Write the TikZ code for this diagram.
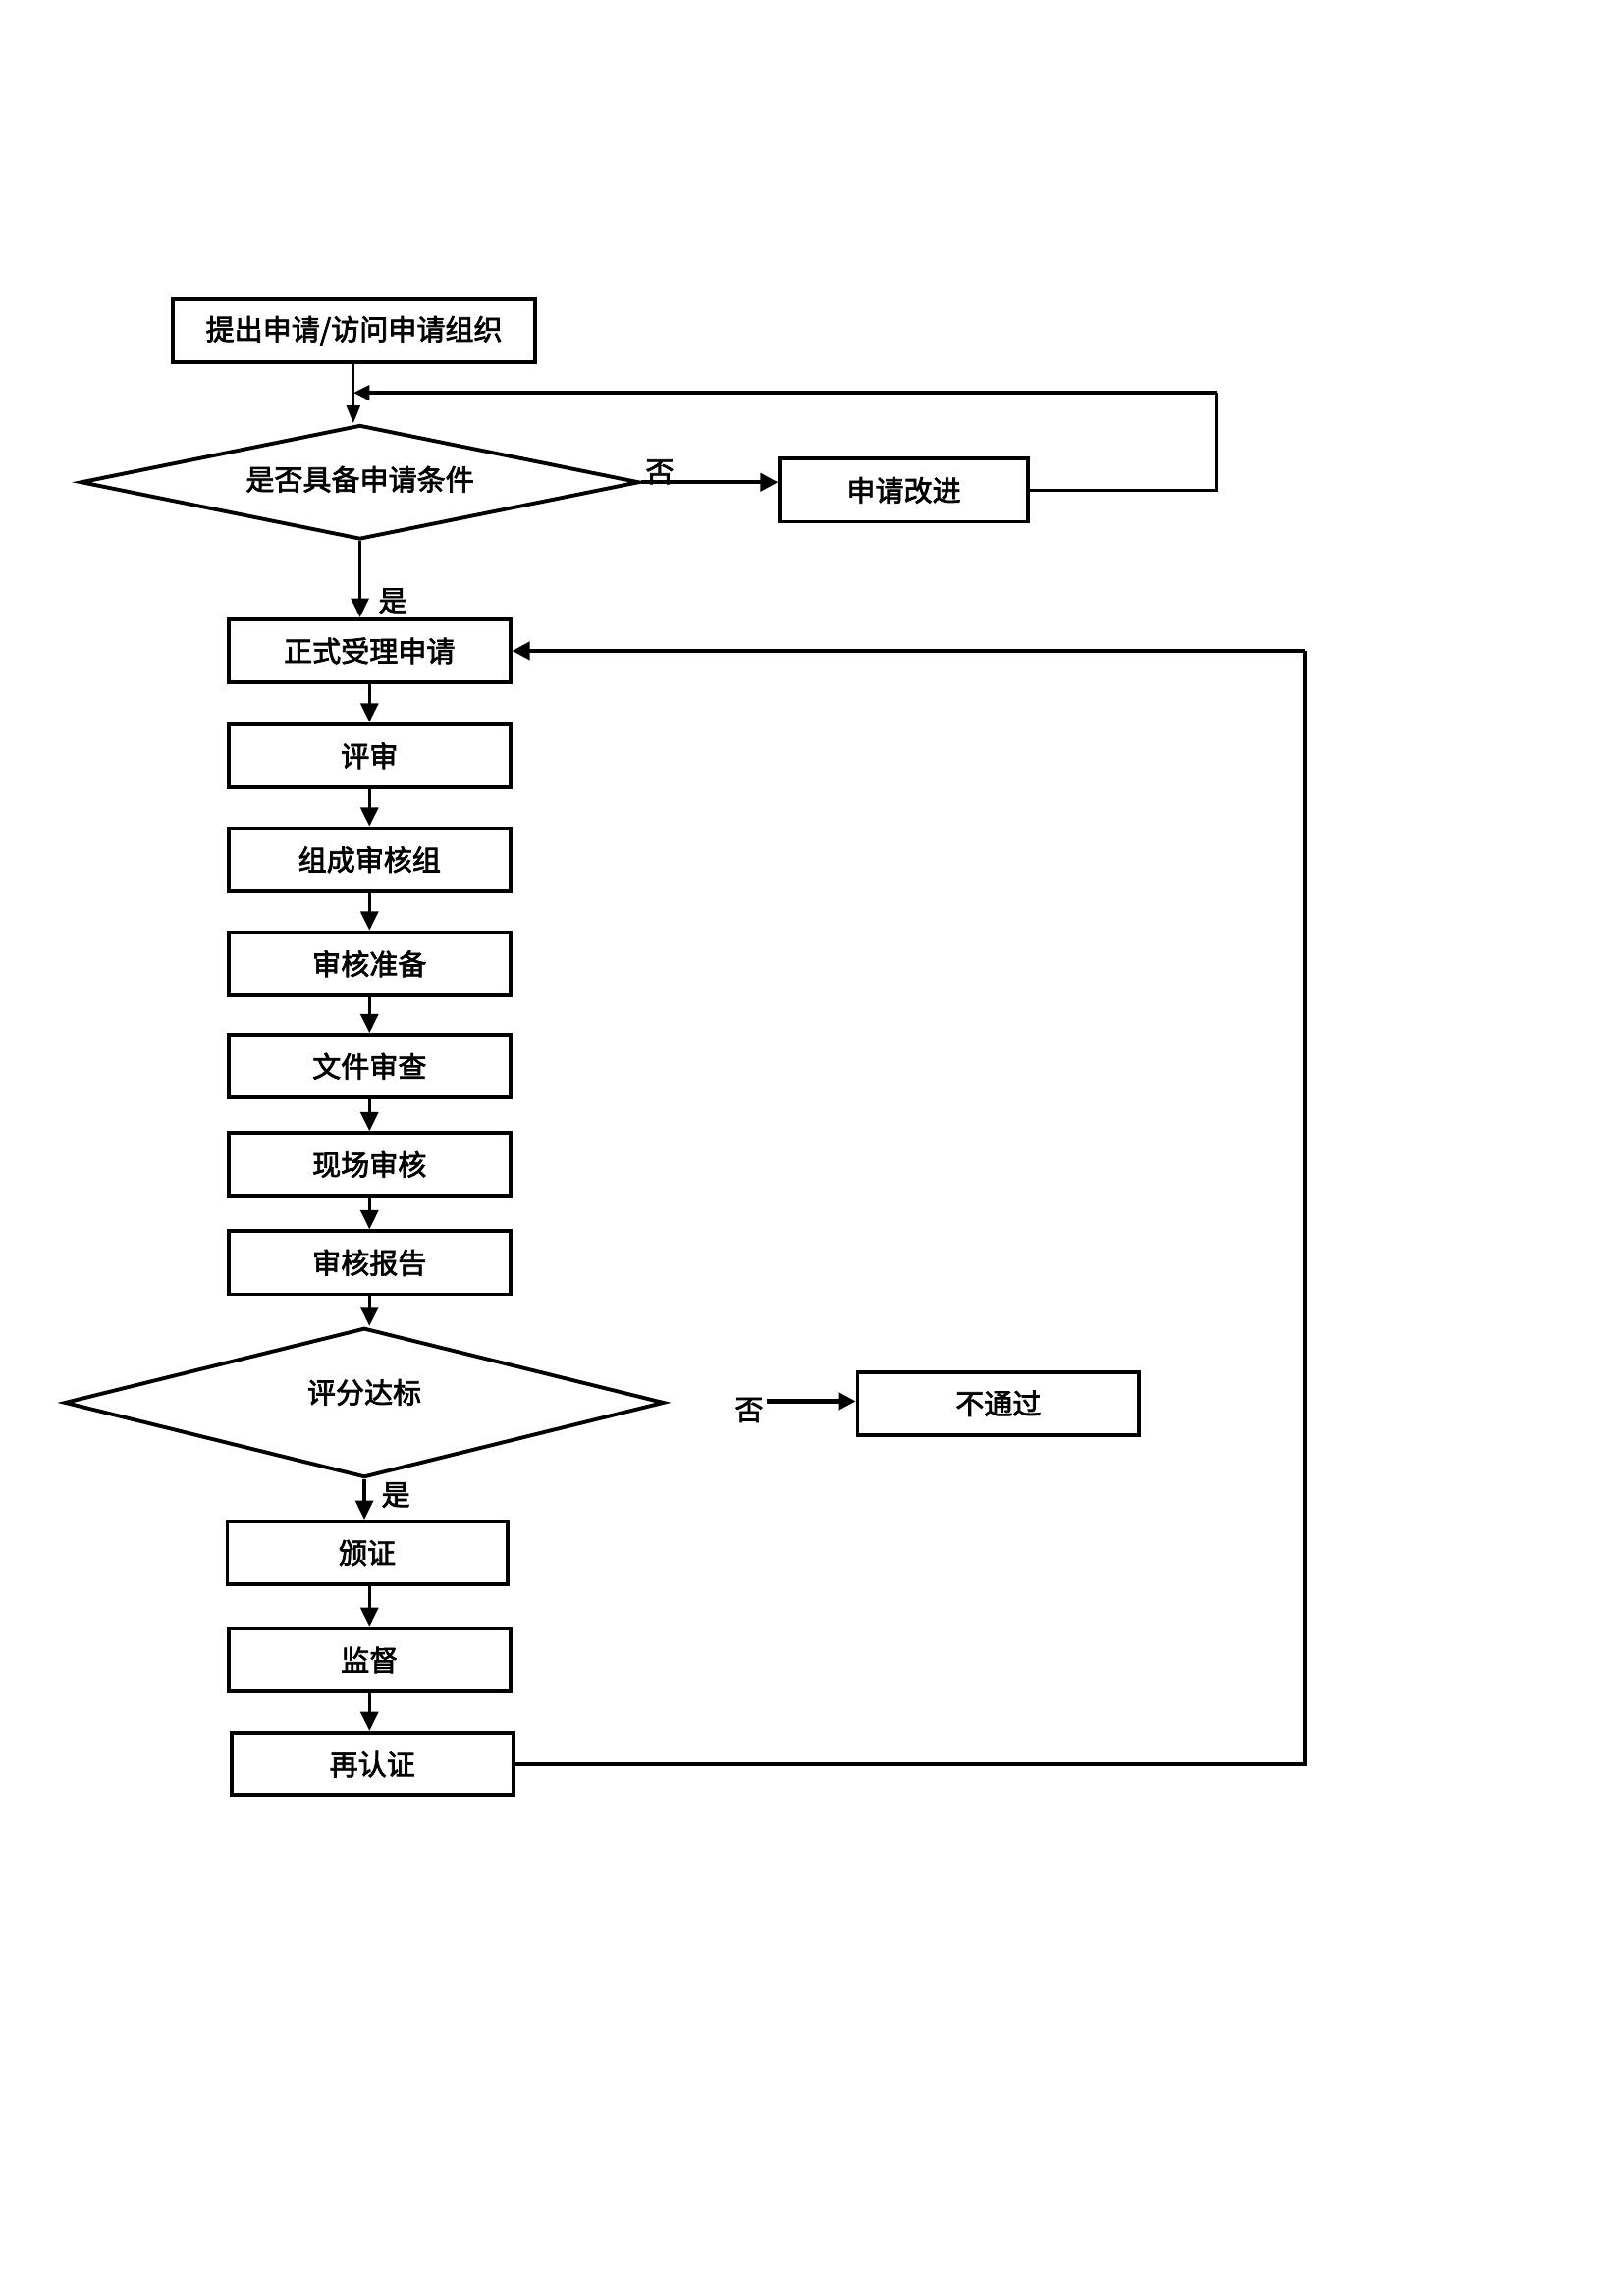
\documentclass[tikz,border=0pt]{standalone}
\usepackage{fontspec}
\newfontfamily\cjk{Noto Sans CJK SC}[FakeBold=2.5]
\usetikzlibrary{shapes.geometric,arrows.meta}
\def\u{0.01896cm}
\begin{document}
\begin{tikzpicture}[x=\u,y=-\u,
  txt/.style={font=\cjk\fontsize{10.5pt}{12pt}\selectfont},
  box/.style={draw,line width=1.4pt,rectangle,minimum width=#1*\u,minimum height=43*\u,inner sep=0pt,txt},
  box/.default=192,
  dia/.style={draw,line width=1.4pt,diamond,inner sep=0pt},
  lbl/.style={txt,inner sep=0pt},
  conn/.style={line width=1.2pt,-{Triangle[length=7pt,width=6.5pt]}},
  thickconn/.style={line width=1.5pt,-{Triangle[length=6.5pt,width=6.5pt]}},
  plain/.style={line width=1.4pt}]
\useasboundingbox (0,0) rectangle (1107.6,1566.5);
% nodes
\node[box=247] (b1) at (241.5,225.5) {提出申请/访问申请组织};
\node[dia,minimum width=381*\u,minimum height=78*\u] (d1) at (245.5,329) {};
\node[lbl] (t1) at (245.5,327) {是否具备申请条件};
\node[box=169] (gj) at (616.5,334.5) {申请改进};
\node[box] (n1) at (252,444) {正式受理申请};
\node[box] (n2) at (252,515.5) {评审};
\node[box] (n3) at (252,586.5) {组成审核组};
\node[box] (n4) at (252,657.5) {审核准备};
\node[box] (n5) at (252,727.5) {文件审查};
\node[box] (n6) at (252,794.5) {现场审核};
\node[box] (n7) at (252,861.5) {审核报告};
\node[dia,minimum width=409*\u,minimum height=102*\u] (d2) at (248.5,957) {};
\node[lbl] (t2) at (248.5,950) {评分达标};
\node[box] (fail) at (681,957.5) {不通过};
\node[box=191] (n8) at (250.5,1059.5) {颁证};
\node[box] (n9) at (252,1132.5) {监督};
\node[box] (n10) at (254,1203.5) {再认证};
% labels
\node[lbl] (no1) at (450,322) {否};
\node[lbl] (yes1) at (268,410) {是};
\node[lbl] (no2) at (511,962) {否};
\node[lbl] (yes2) at (270,1020) {是};
% coordinates
\coordinate (fb) at (241,268);
\coordinate (fbr) at (830,268);
\coordinate (rr) at (890,444);
\coordinate (s2) at (523,956);
% connectors
\draw[line width=1pt,-{Triangle[length=6.5pt,width=5pt]}] (b1.south -| fb) -- (fb |- d1.north);
\draw[plain] (gj.east) -| (fbr);
\draw[line width=1.4pt,-{Triangle[length=6pt,width=5.5pt]}] (fbr) -- (fb);
\draw[thickconn] (d1.east) -- (gj.west |- d1.east);
\draw[conn] (d1.south) -- (d1.south |- n1.north);
\draw[conn] (n1) -- (n2);
\draw[conn] (n2) -- (n3);
\draw[conn] (n3) -- (n4);
\draw[conn] (n4) -- (n5);
\draw[conn] (n5) -- (n6);
\draw[conn] (n6) -- (n7);
\draw[conn] (n7.south) -- (n7.south |- d2.north);
\draw[thickconn] (s2) -- (fail.west |- s2);
\draw[conn] (d2.south) -- (d2.south |- n8.north);
\draw[conn] (n8.south -| n9) -- (n9.north);
\draw[conn] (n9.south) -- (n9.south |- n10.north);
\draw[plain] (n10.east) -| (rr);
\draw[thickconn] (rr) -- (n1.east);
\end{tikzpicture}
\end{document}
